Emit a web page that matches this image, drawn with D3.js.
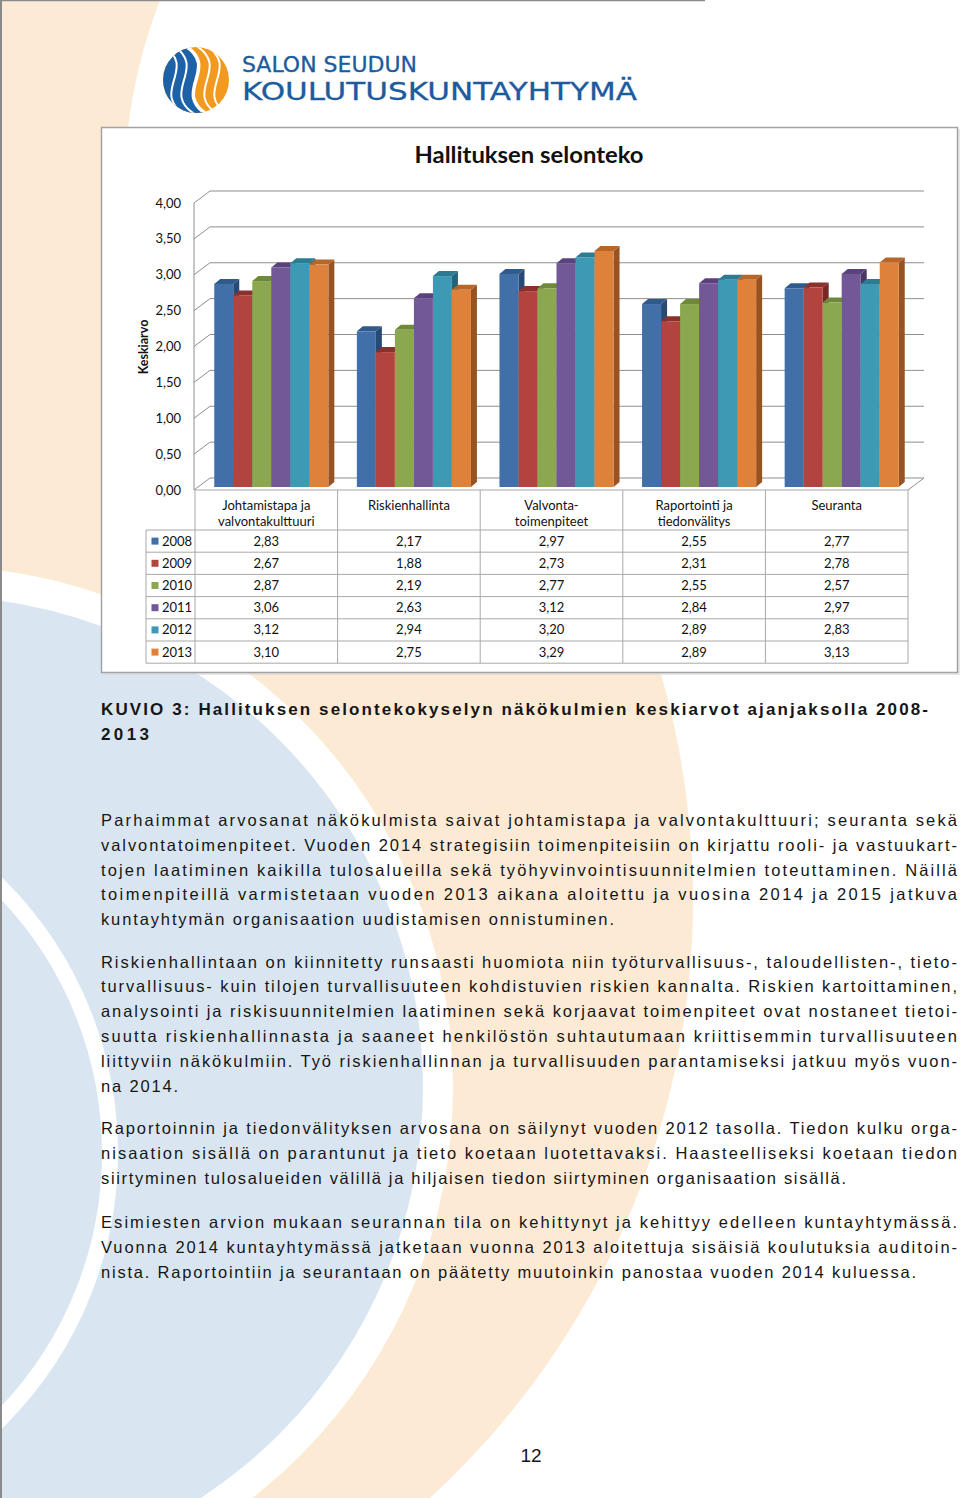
<!DOCTYPE html>
<html><head><meta charset="utf-8">
<script src="https://cdn.jsdelivr.net/npm/d3@7"></script>
<style>html,body{margin:0;padding:0;background:#fff;} svg{display:block;}</style>
</head><body>
<svg id="page" width="960" height="1498"></svg>
<script>
// ---------------- DATA ----------------
const categories = ["Johtamistapa ja valvontakulttuuri", "Riskienhallinta", "Valvonta-toimenpiteet", "Raportointi ja tiedonvälitys", "Seuranta"];
const categoryLines = [["Johtamistapa ja", "valvontakulttuuri"], ["Riskienhallinta"], ["Valvonta-", "toimenpiteet"], ["Raportointi ja", "tiedonvälitys"], ["Seuranta"]];
const years = ["2008", "2009", "2010", "2011", "2012", "2013"];
const values2008 = [2.83, 2.17, 2.97, 2.55, 2.77];
const values2009 = [2.67, 1.88, 2.73, 2.31, 2.78];
const values2010 = [2.87, 2.19, 2.77, 2.55, 2.57];
const values2011 = [3.06, 2.63, 3.12, 2.84, 2.97];
const values2012 = [3.12, 2.94, 3.20, 2.89, 2.83];
const values2013 = [3.10, 2.75, 3.29, 2.89, 3.13];
const yTicks = [0, 0.5, 1, 1.5, 2, 2.5, 3, 3.5, 4];
const yearColors = ["#4170a8", "#b2433f", "#8ba74f", "#735898", "#3e99b4", "#de813a"];
const yearTopColors = ["#2f5a8c", "#8c302d", "#6d8a38", "#5a437c", "#2d7b93", "#b6662a"];
const yearSideColors = ["#264a74", "#762825", "#5a742f", "#4a3567", "#246478", "#985323"];
const chartTitle = "Hallituksen selonteko";
const yAxisTitle = "Keskiarvo";

const series = [values2008, values2009, values2010, values2011, values2012, values2013];

const svg = d3.select("#page");
const defs = svg.append("defs");

// ---------------- BACKGROUND ----------------
const bg = svg.append("g");
const peach = "#fcead5", lblue = "#d9e6f2";
bg.append("circle").attr("cx", -118).attr("cy", 900).attr("r", 811).attr("fill", peach);
bg.append("path").attr("d", "M0,0 H160 C145,40 132,85 127,140 L127,320 L0,320 Z").attr("fill", peach);
bg.append("circle").attr("cx", -68).attr("cy", 1087).attr("r", 521).attr("fill", "#fff");
bg.append("circle").attr("cx", -68).attr("cy", 1087).attr("r", 491).attr("fill", lblue);
bg.append("circle").attr("cx", -267).attr("cy", 1153).attr("r", 377).attr("fill", "none").attr("stroke", "#fff").attr("stroke-width", 16);
bg.append("line").attr("x1", 0).attr("x2", 705).attr("y1", 0.5).attr("y2", 0.5).attr("stroke", "#8a8a8a").attr("stroke-width", 1.5);
bg.append("line").attr("x1", 1).attr("x2", 1).attr("y1", 0).attr("y2", 1498).attr("stroke", "#8a8a8a").attr("stroke-width", 2);

// ---------------- LOGO ----------------
const lg = svg.append("g");
const lcx = 196, lcy = 80, lr = 33;
defs.append("clipPath").attr("id", "logoClip").append("circle").attr("cx", lcx).attr("cy", lcy).attr("r", lr);
const lgc = lg.append("g").attr("clip-path", "url(#logoClip)");
lgc.append("rect").attr("x", lcx - lr).attr("y", lcy - lr).attr("width", 2 * lr).attr("height", 2 * lr).attr("fill", "#f29a1f");
const sCurve = o => `M${lcx - 12 + o},${lcy - lr - 2} C${lcx + 26 + o},${lcy - 12} ${lcx - 26 + o},${lcy + 12} ${lcx + 12 + o},${lcy + lr + 2}`;
lgc.append("path").attr("d", `M${lcx - lr - 2},${lcy - lr - 2} L${lcx - 12},${lcy - lr - 2} C${lcx + 26},${lcy - 12} ${lcx - 26},${lcy + 12} ${lcx + 12},${lcy + lr + 2} L${lcx - lr - 2},${lcy + lr + 2} Z`).attr("fill", "#1d62a8");
[-22, -12, 0, 11, 21].forEach((o, i) => {
  lgc.append("path").attr("d", sCurve(o)).attr("fill", "none").attr("stroke", "#fff").attr("stroke-width", i === 2 ? 3.5 : 2);
});
lg.append("text").attr("x", 242).attr("y", 72).attr("font-family", "'DejaVu Sans', sans-serif").attr("font-size", 20.5)
  .attr("fill", "#1c5c9e").attr("stroke", "#1c5c9e").attr("stroke-width", 0.3)
  .attr("textLength", 175).attr("lengthAdjust", "spacingAndGlyphs").text("SALON SEUDUN");
lg.append("text").attr("x", 242).attr("y", 100).attr("font-family", "'DejaVu Sans', sans-serif").attr("font-size", 25)
  .attr("fill", "#1c5c9e").attr("stroke", "#1c5c9e").attr("stroke-width", 0.3)
  .attr("textLength", 395).attr("lengthAdjust", "spacingAndGlyphs").text("KOULUTUSKUNTAYHTYMÄ");

// ---------------- CHART BOX ----------------
svg.append("rect").attr("x", 103).attr("y", 129).attr("width", 857).attr("height", 546).attr("fill", "#d8d8d8").attr("opacity", 0.6);
svg.append("rect").attr("x", 101.5).attr("y", 127.5).attr("width", 856).attr("height", 545).attr("fill", "#fff").attr("stroke", "#a3a3a3").attr("stroke-width", 1.5);

const chartFont = "Lato, 'Open Sans', sans-serif";
svg.append("text").attr("x", 529).attr("y", 163).attr("text-anchor", "middle").attr("font-family", chartFont)
  .attr("font-weight", 700).attr("font-size", 22).attr("fill", "#111").attr("textLength", 229).attr("lengthAdjust", "spacingAndGlyphs").text(chartTitle);

// scales
const yFront = d3.scaleLinear().domain([0, 4]).range([490, 203]);
const x = d3.scaleBand().domain(categories).range([195, 908]).paddingInner(0.2).paddingOuter(0.1);
const xYear = d3.scaleBand().domain(years).range([0, x.bandwidth()]);
const DX = 16, DY = -12;       // wall depth
const bdx = 6, bdy = -5;       // bar depth
const barShiftX = 5, barShiftY = -3;

const grid = svg.append("g").attr("fill", "none").attr("stroke", "#8e8e8e").attr("stroke-width", 1);
const xLeft = 194, xRightFront = 908;
yTicks.forEach(t => {
  const yf = yFront(t);
  grid.append("path").attr("d", `M${xLeft},${yf} L${xLeft + DX},${yf + DY} L${xRightFront + DX},${yf + DY}`);
});
grid.append("line").attr("x1", xLeft).attr("x2", xLeft).attr("y1", yFront(4)).attr("y2", yFront(0));
grid.append("line").attr("x1", xRightFront).attr("x2", xRightFront + DX).attr("y1", yFront(0)).attr("y2", yFront(0) + DY);

// y tick labels
const fmt = v => d3.format(".2f")(v).replace(".", ",");
svg.append("g").selectAll("text").data(yTicks).join("text")
  .attr("x", 181).attr("y", d => yFront(d)).attr("dy", "0.35em").attr("text-anchor", "end")
  .attr("font-family", chartFont).attr("font-size", 13).attr("fill", "#111").text(fmt);
svg.append("text").attr("transform", `translate(148,347) rotate(-90)`).attr("text-anchor", "middle")
  .attr("font-family", chartFont).attr("font-weight", 700).attr("font-size", 12.5).attr("fill", "#111").text(yAxisTitle);

// bars
const bars = svg.append("g");
categories.forEach((cat, ci) => {
  years.forEach((yr, yi) => {
    const v = series[yi][ci];
    const bx = x(cat) + xYear(yr) + barShiftX;
    const bw = xYear.bandwidth();
    const yb = yFront(0) + barShiftY;
    const yt = yFront(v) + barShiftY;
    bars.append("polygon").attr("points", [[bx + bw, yt], [bx + bw + bdx, yt + bdy], [bx + bw + bdx, yb + bdy], [bx + bw, yb]].join(" "))
      .attr("fill", yearSideColors[yi]);
    bars.append("polygon").attr("points", [[bx, yt], [bx + bdx, yt + bdy], [bx + bw + bdx, yt + bdy], [bx + bw, yt]].join(" "))
      .attr("fill", yearTopColors[yi]);
    bars.append("rect").attr("x", bx).attr("y", yt).attr("width", bw).attr("height", yb - yt).attr("fill", yearColors[yi]);
  });
});

// ---------------- DATA TABLE ----------------
const tbl = svg.append("g");
const rowTop = 530, rowH = 22.2, legLeft = 146;
const nRows = years.length;
const tStroke = "#a8a8a8";
tbl.append("line").attr("x1", 195).attr("x2", 908).attr("y1", 490).attr("y2", 490).attr("stroke", tStroke);
const colEdges = categories.map(c => x(c) - x.step() * x.paddingInner() / 2).concat([908]);
colEdges[0] = 195;
colEdges.forEach(cx => tbl.append("line").attr("x1", cx).attr("x2", cx).attr("y1", 490).attr("y2", rowTop + rowH * nRows).attr("stroke", tStroke));
tbl.append("line").attr("x1", legLeft).attr("x2", legLeft).attr("y1", rowTop).attr("y2", rowTop + rowH * nRows).attr("stroke", tStroke);
for (let r = 0; r <= nRows; r++) {
  tbl.append("line").attr("x1", legLeft).attr("x2", 908).attr("y1", rowTop + r * rowH).attr("y2", rowTop + r * rowH).attr("stroke", tStroke);
}
categories.forEach((cat, ci) => {
  const cxm = x(cat) + x.bandwidth() / 2;
  categoryLines[ci].forEach((ln, li) => {
    tbl.append("text").attr("x", cxm).attr("y", 505 + li * 16.7).attr("dy", "0.35em").attr("text-anchor", "middle")
      .attr("font-family", chartFont).attr("font-size", 13).attr("fill", "#111").text(ln);
  });
});
years.forEach((yr, yi) => {
  const yc = rowTop + yi * rowH + rowH / 2;
  tbl.append("rect").attr("x", 151.5).attr("y", yc - 3.5).attr("width", 7).attr("height", 7).attr("fill", yearColors[yi]);
  tbl.append("text").attr("x", 162).attr("y", yc).attr("dy", "0.35em").attr("font-family", chartFont).attr("font-size", 13).attr("fill", "#111").text(yr);
  categories.forEach((cat, ci) => {
    tbl.append("text").attr("x", x(cat) + x.bandwidth() / 2).attr("y", yc).attr("dy", "0.35em").attr("text-anchor", "middle")
      .attr("font-family", chartFont).attr("font-size", 13).attr("fill", "#111").text(fmt(series[yi][ci]));
  });
});

// ---------------- CAPTION & BODY TEXT ----------------
const bodyFont = "'Liberation Sans', Arial, sans-serif";
function line(txt, y, width, opts = {}) {
  const t = svg.append("text").attr("x", 101).attr("y", y).attr("font-family", bodyFont)
    .attr("font-size", opts.size || 16.5).attr("fill", "#161616").text(txt);
  if (opts.bold) t.attr("font-weight", 700);
  if (width) t.attr("textLength", width).attr("lengthAdjust", "spacing");
}
line("KUVIO 3: Hallituksen selontekokyselyn näkökulmien keskiarvot ajanjaksolla 2008-", 715, 827, { bold: true, size: 17 });
line("2013", 740, 48, { bold: true, size: 17 });

const J = 856;
const paras = [
  [826, [["Parhaimmat arvosanat näkökulmista saivat johtamistapa ja valvontakulttuuri; seuranta sekä", J],
         ["valvontatoimenpiteet. Vuoden 2014 strategisiin toimenpiteisiin on kirjattu rooli- ja vastuukart-", J],
         ["tojen laatiminen kaikilla tulosalueilla sekä työhyvinvointisuunnitelmien toteuttaminen. Näillä", J],
         ["toimenpiteillä varmistetaan vuoden 2013 aikana aloitettu ja vuosina 2014 ja 2015 jatkuva", J],
         ["kuntayhtymän organisaation uudistamisen onnistuminen.", 513]]],
  [967.5, [["Riskienhallintaan on kiinnitetty runsaasti huomiota niin työturvallisuus-, taloudellisten-, tieto-", J],
         ["turvallisuus- kuin tilojen turvallisuuteen kohdistuvien riskien kannalta. Riskien kartoittaminen,", J],
         ["analysointi ja riskisuunnitelmien laatiminen sekä korjaavat toimenpiteet ovat nostaneet tietoi-", J],
         ["suutta riskienhallinnasta ja saaneet henkilöstön suhtautumaan kriittisemmin turvallisuuteen", J],
         ["liittyviin näkökulmiin. Työ riskienhallinnan ja turvallisuuden parantamiseksi jatkuu myös vuon-", J],
         ["na 2014.", 77]]],
  [1134, [["Raportoinnin ja tiedonvälityksen arvosana on säilynyt vuoden 2012 tasolla. Tiedon kulku orga-", J],
         ["nisaation sisällä on parantunut ja tieto koetaan luotettavaksi. Haasteelliseksi koetaan tiedon", J],
         ["siirtyminen tulosalueiden välillä ja hiljaisen tiedon siirtyminen organisaation sisällä.", 745]]],
  [1228, [["Esimiesten arvion mukaan seurannan tila on kehittynyt ja kehittyy edelleen kuntayhtymässä.", J],
         ["Vuonna 2014 kuntayhtymässä jatketaan vuonna 2013 aloitettuja sisäisiä koulutuksia auditoin-", J],
         ["nista. Raportointiin ja seurantaan on päätetty muutoinkin panostaa vuoden 2014 kuluessa.", 815]]]
];
paras.forEach(([y0, lines]) => lines.forEach(([t, w], i) => line(t, y0 + i * 24.8, w)));

svg.append("text").attr("x", 531).attr("y", 1462).attr("text-anchor", "middle").attr("font-family", bodyFont)
  .attr("font-size", 19).attr("fill", "#161616").text("12");
</script>
</body></html>
